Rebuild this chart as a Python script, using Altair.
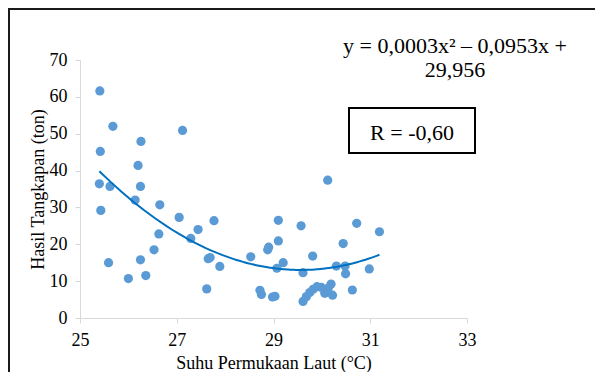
import altair as alt
import pandas as pd

# Sea surface temperature (°C) and catch (ton)
sst = [25.41, 25.68, 25.42, 27.12, 26.26, 26.20, 25.40, 25.62, 26.25, 26.14,
       26.65, 25.43, 27.05, 27.77, 27.44, 26.63, 27.29, 26.53, 25.59, 26.25,
       26.00, 26.36, 27.69, 27.65, 28.53, 27.89, 27.62, 28.72, 28.75, 30.12,
       29.10, 29.57, 30.72, 31.19, 29.10, 28.90, 28.88, 30.44, 29.20, 29.81,
       29.07, 29.61, 30.30, 30.48, 30.49, 30.98, 28.98, 29.03, 29.61, 29.68,
       29.75, 29.82, 29.90, 29.99, 30.06, 30.13, 30.19, 30.22, 30.63]
catch = [61.6, 52.0, 45.2, 50.9, 47.9, 41.4, 36.4, 35.7, 35.7, 32.0,
         30.7, 29.2, 27.3, 26.4, 24.0, 22.8, 21.6, 18.5, 15.0, 15.8,
         10.7, 11.5, 16.4, 16.1, 16.6, 14.0, 7.9, 7.5, 6.4, 37.4,
         26.5, 25.0, 25.7, 23.4, 20.9, 19.2, 18.5, 20.2, 15.0, 16.8,
         13.5, 12.3, 14.1, 14.1, 12.0, 13.3, 5.7, 5.9, 4.5, 5.8,
         6.9, 7.8, 8.5, 8.3, 6.7, 8.1, 9.2, 6.2, 7.6]

x_ticks = [25, 27, 29, 31, 33]
y_ticks = [0, 10, 20, 30, 40, 50, 60, 70]
eq_line1 = "y = 0,0003x\u00b2 \u2013 0,0953x +"
eq_line2 = "29,956"
r_label = "R = -0,60"

df = pd.DataFrame({"sst": sst, "catch": catch})
FONT = "Liberation Serif"

xenc = alt.X("sst:Q", scale=alt.Scale(domain=[25, 33], nice=False),
             axis=alt.Axis(values=x_ticks, title="Suhu Permukaan Laut (\u00b0C)",
                           labelFlush=False, labelOverlap=False,
                           labelFont=FONT, titleFont=FONT,
                           labelPadding=8, titlePadding=5))
yenc = alt.Y("catch:Q", scale=alt.Scale(domain=[0, 70], nice=False),
             axis=alt.Axis(values=y_ticks, title="Hasil Tangkapan (ton)",
                           labelFlush=False, labelOverlap=False,
                           labelFont=FONT, titleFont=FONT,
                           labelPadding=8, titlePadding=2))

points = alt.Chart(df).mark_circle(size=85, color="#5B9BD5", opacity=1).encode(x=xenc, y=yenc)

trend = alt.Chart(df).transform_regression(
    "sst", "catch", method="poly", order=2
).mark_line(color="#0070C0", strokeWidth=2).encode(x=xenc, y=yenc)

one = pd.DataFrame({"k": [0]})

frame = alt.Chart(one).mark_rect(fill="transparent", stroke="#1a1a1a", strokeWidth=2).encode(
    x=alt.value(-71), x2=alt.value(560), y=alt.value(-51), y2=alt.value(350))

rbox = alt.Chart(one).mark_rect(fill="white", stroke="black", strokeWidth=2).encode(
    x=alt.value(269), x2=alt.value(395), y=alt.value(48), y2=alt.value(93))

rtext = alt.Chart(one).mark_text(font=FONT, fontSize=22, color="black").encode(
    x=alt.value(332), y=alt.value(73), text=alt.value(r_label))

eq1 = alt.Chart(one).mark_text(font=FONT, fontSize=22, color="black").encode(
    x=alt.value(375), y=alt.value(-14), text=alt.value(eq_line1))
eq2 = alt.Chart(one).mark_text(font=FONT, fontSize=22, color="black").encode(
    x=alt.value(375), y=alt.value(10), text=alt.value(eq_line2))

chart = alt.layer(points, trend, frame, rbox, rtext, eq1, eq2).properties(
    width=387, height=258,
    autosize=alt.AutoSizeParams(type="none"),
    padding={"left": 72, "top": 52, "right": 128, "bottom": 54},
).configure_view(stroke=None).configure_axis(
    grid=False, domainColor="#D9D9D9", tickColor="#D9D9D9", tickSize=5,
    labelFontSize=18, titleFontSize=18,
    labelColor="black", titleColor="black", titleFontWeight="normal",
)

chart.save("out.html", embed_options={"renderer": "svg", "actions": False})
